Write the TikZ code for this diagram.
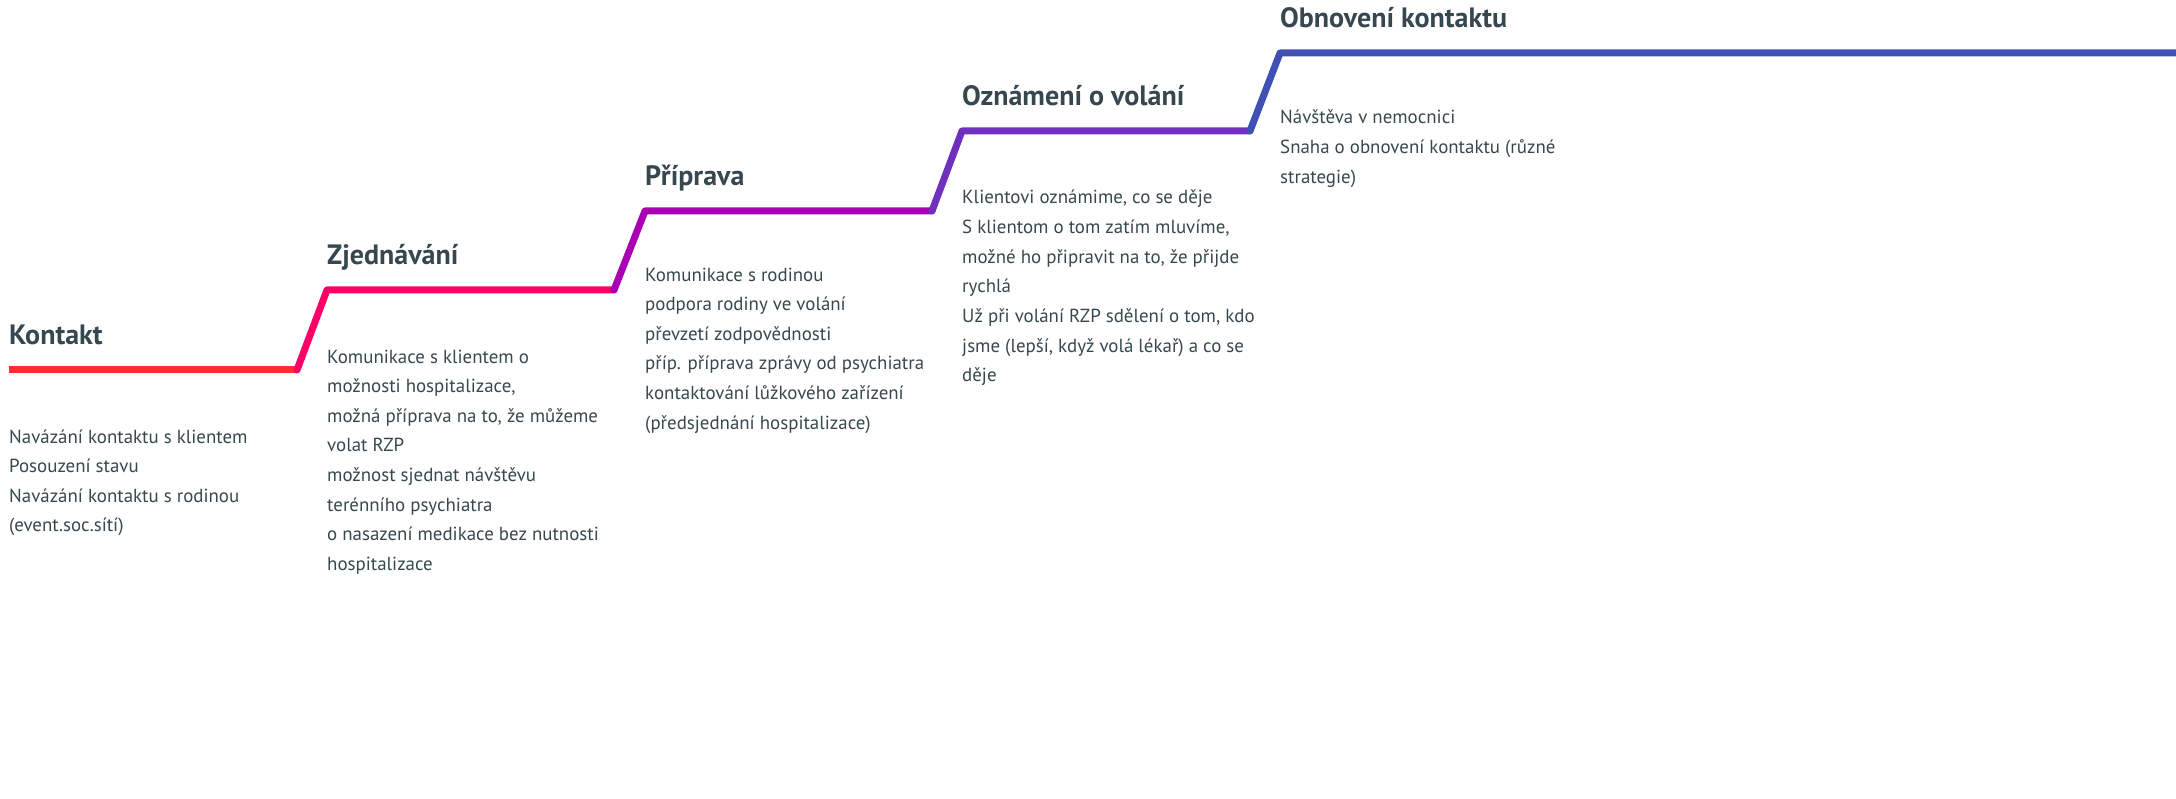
\documentclass[tikz,border=0pt]{standalone}
\usepackage{fontspec}
\setmainfont{PT Sans}
\definecolor{txt}{HTML}{37474F}
\definecolor{cA}{HTML}{FF2D2D}
\definecolor{cB}{HTML}{FF0066}
\definecolor{cC}{HTML}{AA00B4}
\definecolor{cD}{HTML}{7030BE}
\definecolor{cE}{HTML}{3F51B5}
\begin{document}
\begin{tikzpicture}[x=1pt,y=-1pt,
  stepline/.style={line width=7pt,line cap=round,line join=round},
  title/.style={anchor=base west,inner sep=0pt,text=txt,font=\fontsize{28}{34}\selectfont\bfseries},
  body/.style={anchor=base west,inner sep=0pt,text=txt,align=left,font=\fontsize{18.9}{29.6}\selectfont}]
\useasboundingbox (0,0) rectangle (2176,799);
% step corners
\coordinate (a0) at (9,370);
\coordinate (a1) at (297,370);
\coordinate (b0) at (327,290);
\coordinate (b1) at (614,290);
\coordinate (c0) at (645,211);
\coordinate (c1) at (932,211);
\coordinate (d0) at (962,131);
\coordinate (d1) at (1250,131);
\coordinate (e0) at (1280,53);
\coordinate (e1) at (2180,53);
\draw[stepline,cA,line cap=butt] (a0) -- (a1);
\draw[stepline,cB] (a1) -- (b0) -- (b1);
\draw[stepline,cC] (b1) -- (c0) -- (c1);
\draw[stepline,cD] (c1) -- (d0) -- (d1);
\draw[stepline,cE] (d1) -- (e0) -- (e1);
% titles
\node[title] (t1) at (9,345) {Kontakt};
\node[title] (t2) at (327,265) {Zjednávání};
\node[title] (t3) at (645,186) {Příprava};
\node[title] (t4) at (962,106) {Oznámení o volání};
\node[title] (t5) at (1280,28) {Obnovení kontaktu};
% bodies (anchored at the baseline of their last line)
\node[body] (b1t) at (9,{443+3*29.6}) {Navázání kontaktu s klientem\\Posouzení stavu\\Navázání kontaktu s rodinou\\(event.soc.sítí)};
\node[body] (b2t) at (327,{363+7*29.6}) {Komunikace s klientem o\\možnosti hospitalizace,\\možná příprava na to, že můžeme\\volat RZP\\možnost sjednat návštěvu\\terénního psychiatra\\o nasazení medikace bez nutnosti\\hospitalizace};
\node[body] (b3t) at (645,{281+5*29.6}) {Komunikace s rodinou\\podpora rodiny ve volání\\převzetí zodpovědnosti\\příp. příprava zprávy od psychiatra\\kontaktování lůžkového zařízení\\(předsjednání hospitalizace)};
\node[body] (b4t) at (962,{204+6*29.6}) {Klientovi oznámime, co se děje\\S klientom o tom zatím mluvíme,\\možné ho připravit na to, že přijde\\rychlá\\Už při volání RZP sdělení o tom, kdo\\jsme (lepší, když volá lékař) a co se\\děje};
\node[body] (b5t) at (1280,{124+2*29.6}) {Návštěva v nemocnici\\Snaha o obnovení kontaktu (různé\\strategie)};
\end{tikzpicture}
\end{document}
